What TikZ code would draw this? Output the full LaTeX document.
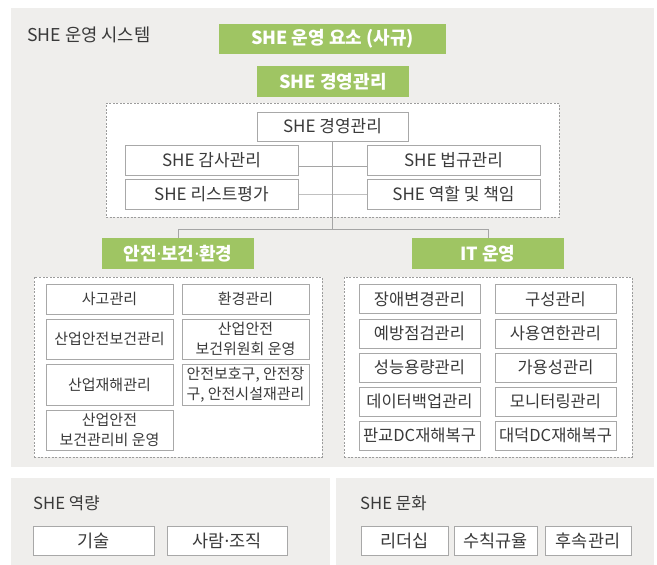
\documentclass[tikz,border=0pt]{standalone}
\usepackage{fontspec}
\setmainfont{Noto Sans CJK KR}
\newfontfamily\latinf{Noto Sans}
\newcommand{\mdt}{{\latinf ·}}
\definecolor{panelgray}{HTML}{EFEEEC}
\definecolor{shegreen}{HTML}{9FC563}
\definecolor{boxgray}{HTML}{A8A8A8}
\definecolor{dashgray}{HTML}{9C9C9C}
\definecolor{linegray}{HTML}{A5A5A5}
\definecolor{txt}{HTML}{3A3A3A}
\begin{document}
\begin{tikzpicture}[x=1pt,y=-1pt,
  panel/.style={fill=panelgray, draw=none, inner sep=0pt},
  sz/.style 2 args={minimum width=#1pt, minimum height=#2pt},
  gbox/.style={fill=shegreen, draw=none, text=white, inner sep=0pt,
    font=\fontsize{18}{21}\selectfont\bfseries},
  dbox/.style={draw=dashgray, fill=white, line width=0.8pt, dash pattern=on 2pt off 1.5pt, inner sep=0pt},
  item/.style={draw=boxgray, fill=white, line width=1pt, inner sep=0pt, text=txt, align=center},
  itemL/.style={item, font=\fontsize{17}{20}\selectfont},
  itemS/.style={item, font=\fontsize{15}{19.5}\selectfont},
  itemM/.style={item, font=\fontsize{16.5}{19}\selectfont},
  itemB/.style={item, font=\fontsize{17.5}{20}\selectfont},
  ttl/.style={anchor=west, inner sep=0pt, text=txt, font=\fontsize{17.7}{20}\selectfont},
  conn/.style={draw=linegray, line width=1pt}
]
\useasboundingbox (0,0) rectangle (657,565);

% panels
\node[panel, sz={643}{459}] (P1) at (332.5,237.5) {};
\node[panel, sz={319}{87}] (P2) at (170.5,521.5) {};
\node[panel, sz={318}{87}] (P3) at (495,521.5) {};

\node[ttl] (T1) at (27,35) {SHE 운영 시스템};

% green headers
\node[gbox, sz={227}{30}] (G1) at (332.5,39) {SHE 운영 요소 (사규)};
\node[gbox, sz={152}{31}] (G2) at (333,81.5) {SHE 경영관리};

% management dashed box
\node[dbox, sz={453}{114}] (D0) at (332.5,160) {};
\node[itemL, sz={151}{29}] (B0) at (332.5,126.5) {SHE 경영관리};
\node[itemL, sz={173}{30}] (B1) at (211.5,160) {SHE 감사관리};
\node[itemL, sz={173}{30}] (B2) at (453.5,160) {SHE 법규관리};
\node[itemL, sz={173}{30}] (B3) at (211.5,194) {SHE 리스트평가};
\node[itemL, sz={173}{30}] (B4) at (453.5,194) {SHE 역할 및 책임};

% section headers
\node[gbox, sz={152}{31}] (G3) at (178,253.5) {안전\mdt 보건\mdt 환경};
\node[gbox, sz={152}{31}] (G4) at (488,253.5) {IT 운영};

\coordinate (J) at (332,230);
\draw[conn] ([yshift=-6pt]B1.east) -- ([yshift=-6pt]B2.west);
\draw[conn, draw=linegray!70] (B3.east) -- (B4.west);
\draw[conn] (B0.south -| J) -- (J);
\draw[conn] (G3.north) -- ++(0,-8) -| (G4.north);

% safety dashed box
\node[dbox, sz={288}{180}] (DL) at (178,367) {};
\node[itemS, sz={127}{30}] (L1) at (109.5,299) {사고관리};
\node[itemS, sz={127}{40}] (L2) at (109.5,339) {산업안전보건관리};
\node[itemS, sz={127}{41}] (L3) at (109.5,384.5) {산업재해관리};
\node[itemS, sz={127}{40}] (L4) at (109.5,430) {산업안전\\보건관리비 운영};
\node[itemS, sz={127}{30}] (R1) at (245.5,299) {환경관리};
\node[itemS, sz={127}{40}] (R2) at (245.5,339) {산업안전\\보건위원회 운영};
\node[itemS, sz={127}{41}] (R3) at (245.5,384.5) {안전보호구, 안전장\\구, 안전시설재관리};

% IT dashed box
\node[dbox, sz={288}{180}] (DR) at (488,367) {};
\node[itemM, sz={121}{29}] (I1) at (419.5,299) {장애변경관리};
\node[itemM, sz={121}{29}] (I2) at (419.5,333.5) {예방점검관리};
\node[itemM, sz={121}{29}] (I3) at (419.5,367.5) {성능용량관리};
\node[itemM, sz={121}{29}] (I4) at (419.5,401.5) {데이터백업관리};
\node[itemM, sz={121}{29}] (I5) at (419.5,435.5) {판교DC재해복구};
\node[itemM, sz={121}{29}] (J1) at (555.5,299) {구성관리};
\node[itemM, sz={121}{29}] (J2) at (555.5,333.5) {사용연한관리};
\node[itemM, sz={121}{29}] (J3) at (555.5,367.5) {가용성관리};
\node[itemM, sz={121}{29}] (J4) at (555.5,401.5) {모니터링관리};
\node[itemM, sz={121}{29}] (J5) at (555.5,435.5) {대덕DC재해복구};

% bottom panels
\node[ttl, font=\fontsize{16.7}{20}\selectfont] (T2) at (33,503) {SHE 역량};
\node[ttl, font=\fontsize{16.7}{20}\selectfont] (T3) at (360,503) {SHE 문화};
\node[itemB, sz={121}{29}] (C1) at (93.5,540.5) {기술};
\node[itemB, sz={120}{29}] (C2) at (227,540.5) {사람\mdt 조직};
\node[itemB, sz={87}{29}] (K1) at (404.5,540.5) {리더십};
\node[itemB, sz={83}{29}] (K2) at (495.5,540.5) {수칙규율};
\node[itemB, sz={86}{29}] (K3) at (588,540.5) {후속관리};
\end{tikzpicture}
\end{document}
